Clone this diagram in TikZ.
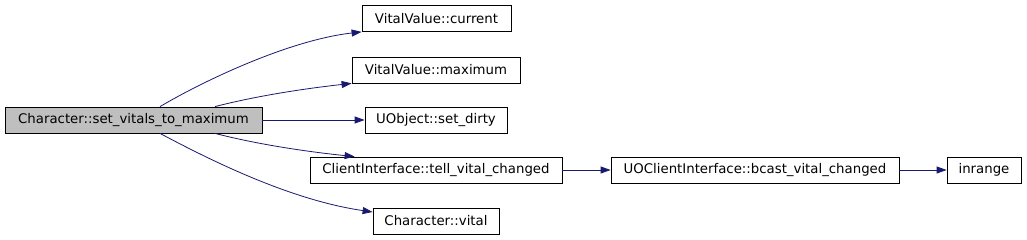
\documentclass[tikz,border=0pt]{standalone}
\usepackage{fontspec}
\setmainfont{DejaVu Sans}
\usepackage{tikz}
\usetikzlibrary{calc,positioning,arrows.meta}
\definecolor{edgeblue}{RGB}{25,25,112}
\definecolor{rootgrey}{RGB}{191,191,191}

\begin{document}
\begin{tikzpicture}[x=1pt, y=-1pt,
		fn/.style={draw=black, line width=0.8pt, rectangle, inner sep=0pt, minimum height=26pt, font=\fontsize{13.3}{16}\selectfont},
		call/.style={draw=edgeblue, line width=0.8pt, -{Triangle[length=10pt, width=7pt]}}]
				\useasboundingbox (0,0) rectangle (1027,240);
				% callee nodes
				\node[fn, fill=rootgrey, minimum width=257pt] (root) at (133.5,120) {Character::set\_vitals\_to\_maximum};
				\node[fn, minimum width=149pt] (current) at (436.5,18.5) {VitalValue::current};
				\node[fn, minimum width=168pt] (maximum) at (436,70) {VitalValue::maximum};
				\node[fn, minimum width=142pt] (dirty) at (436,120) {UObject::set\_dirty};
				\node[fn, minimum width=252pt] (tell) at (436,170) {ClientInterface::tell\_vital\_changed};
				\node[fn, minimum width=126pt] (vital) at (436,221) {Character::vital};
				\node[fn, minimum width=288pt] (bcast) at (755,170) {UOClientInterface::bcast\_vital\_changed};
				\node[fn, minimum width=74pt] (inrange) at (984,170) {inrange};
				
				% calls
				\draw[call] ([xshift=26.5pt]root.north) .. controls (205,80) and (290,40) .. (current.south west);
				\draw[call] ([xshift=81.5pt]root.north) .. controls (260,95) and (310,88) .. (maximum.south west);
				\draw[call] (root.east) -- (dirty.west);
				\draw[call] ([xshift=81.5pt]root.south) .. controls (260,145) and (310,152) .. ([xshift=45pt]tell.north west);
				\draw[call] ([xshift=26.5pt]root.south) .. controls (210,160) and (290,200) .. ([yshift=9pt]vital.west);
				\draw[call] (tell.east) -- (bcast.west);
				\draw[call] (bcast.east) -- (inrange.west);
			\end{tikzpicture}
\end{document}
